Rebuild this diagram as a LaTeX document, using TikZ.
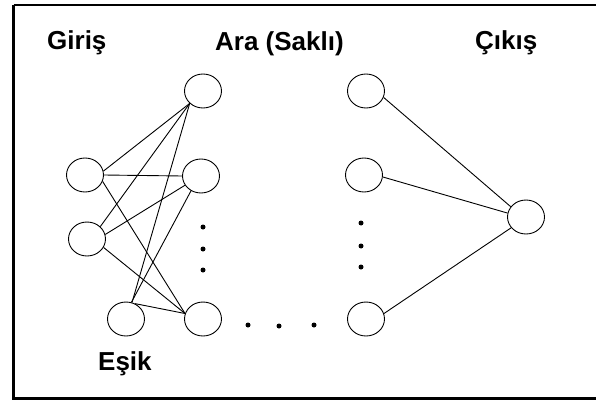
\documentclass[tikz,border=0pt]{standalone}
\usepackage{fontspec}
\setmainfont{Liberation Sans}
\usetikzlibrary{shapes.geometric}
\begin{document}
\begin{tikzpicture}[x=1pt,y=-1pt,
  neuron/.style={draw,ellipse,minimum width=37pt,minimum height=34pt,inner sep=0pt,line width=0.9pt},
  link/.style={line width=0.9pt},
  dotmark/.style={fill=black,circle,inner sep=0pt,minimum size=5pt},
  lbl/.style={font=\fontsize{26}{30}\selectfont\bfseries,inner sep=0pt,anchor=base west}]
\useasboundingbox (0,0) rectangle (596,401);
\draw[line width=2.5pt] (13.5,5) -- (600,5) (13.5,5) -- (13.5,398.5) -- (600,398.5);
% labels
\node[lbl] (tgiris) at (47,50) {Giriş};
\node[lbl] (tara) at (215,51) {Ara (Saklı)};
\node[lbl] (tcikis) at (475,50) {Çıkış};
\node[lbl] (tesik) at (98,370) {Eşik};
% nodes
\node[neuron] (I1) at (85,175) {};
\node[neuron] (I2) at (87,239) {};
\node[neuron] (B) at (126,319) {};
\node[neuron] (H1) at (203,91) {};
\node[neuron] (H2) at (201,176) {};
\node[neuron] (H4) at (203,319) {};
\node[neuron] (R1) at (366,91) {};
\node[neuron] (R2) at (364,175) {};
\node[neuron] (R4) at (366,319) {};
\node[neuron] (O) at (526,217) {};
% dots
\node[dotmark] (d1) at (203,227) {};
\node[dotmark] (d2) at (203,249) {};
\node[dotmark] (d3) at (203,270) {};
\node[dotmark] (e1) at (361,223) {};
\node[dotmark] (e2) at (361,246) {};
\node[dotmark] (e3) at (361,267) {};
\node[dotmark] (f1) at (248,325) {};
\node[dotmark] (f2) at (279,326) {};
\node[dotmark] (f3) at (314,325) {};
% left connections
\draw[link] (I1.12) -- (H1.223);
\draw[link] (I1.east) -- (H2.west);
\draw[link] (I1.-20) -- (H4.163);
\draw[link] (I2.43) -- (H1.223);
\draw[link] (I2.14) -- (H2.210);
\draw[link] (I2.-27) -- (H4.163);
\draw[link] (B.70) -- (H1.223);
\draw[link] (B.72) -- (H2.236);
\draw[link] (B.60) -- (H4.163);
% right connections
\draw[link] (R1.-20) -- (O.146);
\draw[link] (R2.-6) -- (O.168);
\draw[link] (R4.17) -- (O.216);
\end{tikzpicture}
\end{document}
